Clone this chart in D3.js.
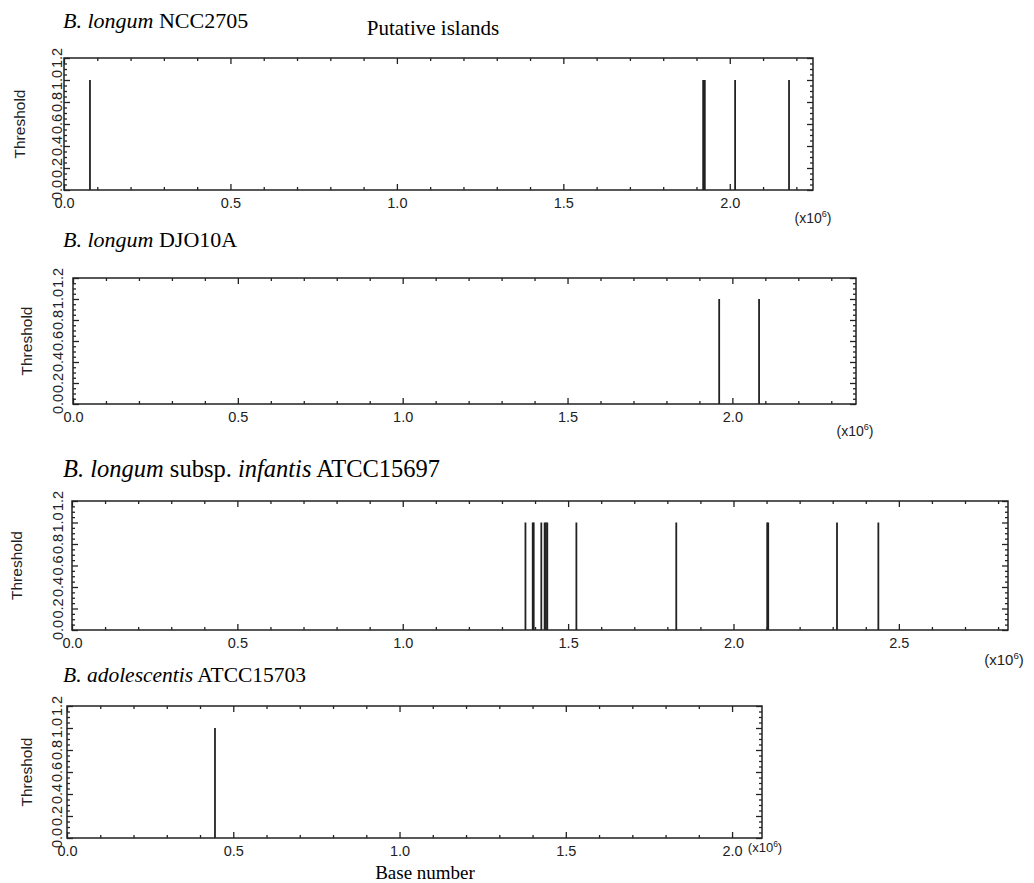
<!DOCTYPE html>
<html>
<head>
<meta charset="utf-8">
<script src="https://cdn.jsdelivr.net/npm/d3@7"></script>
<style>
  body { margin: 0; background: #fff; }
  .tick text { font-family: "Liberation Sans", Arial, sans-serif; }
</style>
</head>
<body>
<div id="chart"></div>
<script>
// Island positions along the genome, in units of 10^6 bases
const ncc2705Islands = [0.078, 1.920, 1.925, 2.016, 2.178];
const djo10aIslands = [1.960, 2.081];
const infantisIslands = [1.371, 1.393, 1.396, 1.419, 1.429, 1.433, 1.437, 1.525, 1.827, 2.102, 2.105, 2.313, 2.438];
const adolescentisIslands = [0.445];

// genome length of each strain (x10^6)
const genomeSizes = [2.25, 2.375, 2.83, 2.09];

// every island is drawn at the threshold value
const islandThreshold = 1.0;

const xTicks = [0, 0.5, 1.0, 1.5, 2.0, 2.5];
const yTicks = [0, 0.2, 0.4, 0.6, 0.8, 1.0, 1.2];

// strain titles: [text, italic?]
const strainTitles = [
    [['B. longum', true], [' NCC2705', false]],
    [['B. longum', true], [' DJO10A', false]],
    [['B. longum', true], [' subsp. ', false], ['infantis', true], [' ATCC15697', false]],
    [['B. adolescentis', true], [' ATCC15703', false]]
];

const islandSets = [ncc2705Islands, djo10aIslands, infantisIslands, adolescentisIslands];

// panel frames in page pixels (the source panels were pasted at slightly different scales)
const layout = [
    { left: 64, right: 813, top: 58, bottom: 190, titleY: 28, titleSize: 22, yLabX: 62, thrX: 25,
      unitX: 813, unitY: 223, unitSize: 14 },
    { left: 73, right: 856, top: 278, bottom: 404, titleY: 247, titleSize: 22, yLabX: 63, thrX: 32,
      unitX: 855, unitY: 436, unitSize: 14 },
    { left: 72, right: 1008, top: 501, bottom: 630, titleY: 477, titleSize: 24.5, yLabX: 63, thrX: 22,
      unitX: 1004, unitY: 665, unitSize: 15 },
    { left: 67, right: 762, top: 706, bottom: 838, titleY: 682, titleSize: 21.5, yLabX: 62, thrX: 32,
      unitX: 765, unitY: 852, unitSize: 13 }
];

const W = 1034, H = 883;
const ink = '#222';
const sans = '"Liberation Sans", Arial, sans-serif';
const serif = '"Liberation Serif", "Times New Roman", serif';

const svg = d3.select('#chart').append('svg')
    .attr('width', W)
    .attr('height', H);

svg.append('rect').attr('width', W).attr('height', H).attr('fill', '#fff');

// Header
svg.append('text')
    .attr('x', 433).attr('y', 35)
    .attr('text-anchor', 'middle')
    .style('font-family', serif).style('font-size', '21px')
    .text('Putative islands');

layout.forEach((p, i) => {
    const x = d3.scaleLinear().domain([0, genomeSizes[i]]).range([p.left, p.right]);
    const y = d3.scaleLinear().domain([0, 1.2]).range([p.bottom, p.top]);
    const g = svg.append('g');

    // title
    const t = g.append('text')
        .attr('x', 63).attr('y', p.titleY)
        .style('font-family', serif).style('font-size', p.titleSize + 'px');
    strainTitles[i].forEach(([s, it]) => {
        t.append('tspan').attr('font-style', it ? 'italic' : 'normal').text(s);
    });

    const xMajor = xTicks.filter(v => v <= genomeSizes[i]);
    const xMinor = d3.range(0, genomeSizes[i] + 1e-9, 0.1).filter(v => Math.abs(v * 2 - Math.round(v * 2)) > 1e-6);
    const yMinor = d3.range(0, 1.2001, 0.05).filter(v => Math.abs(v * 5 - Math.round(v * 5)) > 1e-6);

    // bottom axis with labels, ticks pointing inward
    g.append('g')
        .attr('transform', `translate(0,${p.bottom})`)
        .call(d3.axisBottom(x).tickValues(xMajor).tickSizeInner(-6).tickSizeOuter(0)
            .tickPadding(8).tickFormat(d3.format('.1f')))
        .call(a => a.selectAll('text').style('font-size', '14.5px').attr('fill', ink));
    g.append('g')
        .attr('transform', `translate(0,${p.bottom})`)
        .call(d3.axisBottom(x).tickValues(xMinor).tickSizeInner(-3).tickSizeOuter(0).tickFormat(''));

    // top axis
    g.append('g')
        .attr('transform', `translate(0,${p.top})`)
        .call(d3.axisTop(x).tickValues(xMajor).tickSizeInner(-6).tickSizeOuter(0).tickFormat(''));
    g.append('g')
        .attr('transform', `translate(0,${p.top})`)
        .call(d3.axisTop(x).tickValues(xMinor).tickSizeInner(-3).tickSizeOuter(0).tickFormat(''));

    // left and right axes
    [[d3.axisLeft, p.left], [d3.axisRight, p.right]].forEach(([ax, pos]) => {
        g.append('g')
            .attr('transform', `translate(${pos},0)`)
            .call(ax(y).tickValues(yTicks).tickSizeInner(-6).tickSizeOuter(0).tickFormat(''));
        g.append('g')
            .attr('transform', `translate(${pos},0)`)
            .call(ax(y).tickValues(yMinor).tickSizeInner(-3).tickSizeOuter(0).tickFormat(''));
    });

    g.selectAll('.domain').remove();
    g.selectAll('.tick line').attr('stroke', ink).attr('stroke-width', 1.3);

    // y tick labels, rotated and crammed together
    g.selectAll('.ylab')
        .data(yTicks)
        .join('text')
        .attr('class', 'ylab')
        .attr('transform', d => `translate(${p.yLabX},${y(d)}) rotate(-90)`)
        .attr('text-anchor', 'middle')
        .style('font-family', sans).style('font-size', '14.5px')
        .attr('fill', ink)
        .text(d3.format('.1f'));

    // y title
    g.append('text')
        .attr('transform', `translate(${p.thrX},${(p.top + p.bottom) / 2}) rotate(-90)`)
        .attr('text-anchor', 'middle')
        .style('font-family', sans).style('font-size', '15.5px')
        .attr('fill', ink)
        .text('Threshold');

    // island lines
    g.selectAll('.island')
        .data(islandSets[i])
        .join('line')
        .attr('class', 'island')
        .attr('x1', d => x(d)).attr('x2', d => x(d))
        .attr('y1', y(0)).attr('y2', y(islandThreshold))
        .attr('stroke', ink)
        .attr('stroke-width', 1.8);

    // frame
    g.append('rect')
        .attr('x', p.left).attr('y', p.top)
        .attr('width', p.right - p.left).attr('height', p.bottom - p.top)
        .attr('fill', 'none').attr('stroke', ink).attr('stroke-width', 1.5);

    // unit label (x10^6)
    const u = g.append('text')
        .attr('x', p.unitX).attr('y', p.unitY)
        .attr('text-anchor', 'middle')
        .style('font-family', sans).style('font-size', p.unitSize + 'px')
        .attr('fill', ink);
    u.append('tspan').text('(x10');
    u.append('tspan').attr('dy', -p.unitSize * 0.4).style('font-size', (p.unitSize * 0.65) + 'px').text('6');
    u.append('tspan').attr('dy', p.unitSize * 0.4).text(')');
});

// x title
svg.append('text')
    .attr('x', 425).attr('y', 879)
    .attr('text-anchor', 'middle')
    .style('font-family', serif).style('font-size', '19px')
    .text('Base number');
</script>
</body>
</html>
